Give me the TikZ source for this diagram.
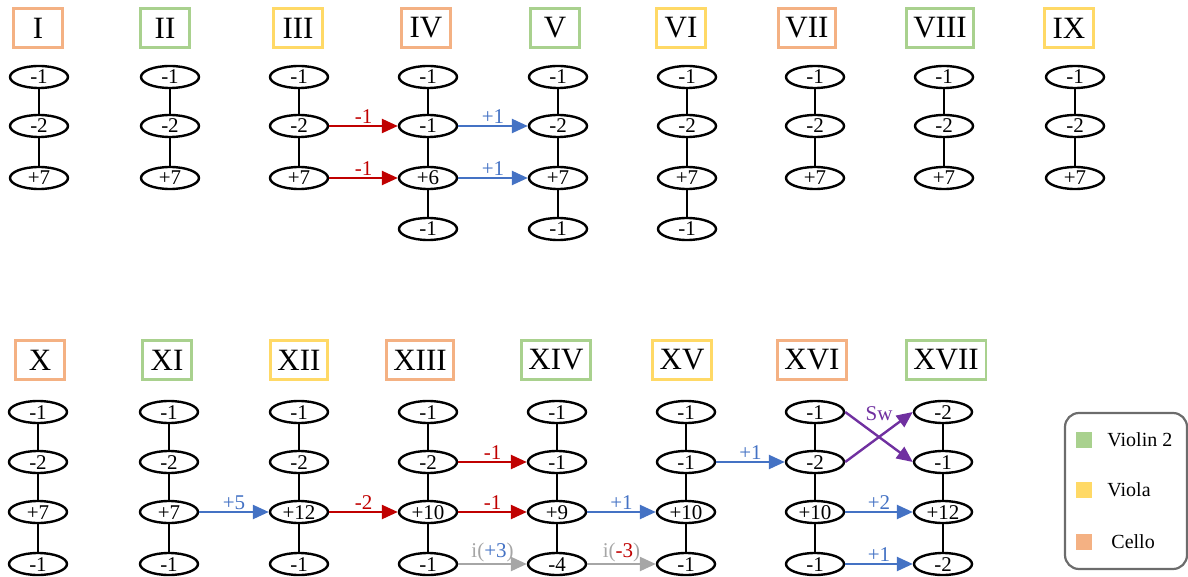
\documentclass[tikz,border=0pt]{standalone}
\usepackage{fontspec}
\setmainfont{Liberation Serif}
\usetikzlibrary{arrows.meta,shapes.geometric,positioning}
\definecolor{celloc}{HTML}{F4B183}
\definecolor{violac}{HTML}{FFD966}
\definecolor{violinc}{HTML}{A9D18E}
\definecolor{upc}{HTML}{4472C4}
\definecolor{downc}{HTML}{C00000}
\definecolor{invc}{HTML}{A6A6A6}
\definecolor{swc}{HTML}{7030A0}
\begin{document}
\begin{tikzpicture}[x=1pt,y=-1pt,
  title/.style={draw, line width=2.4pt, minimum width=49pt, minimum height=39pt, inner xsep=7pt, font=\fontsize{31}{32}\selectfont},
  val/.style={ellipse, draw, line width=2.4pt, minimum width=58pt, minimum height=22pt, inner sep=0pt, text height=14pt, text depth=0pt, font=\fontsize{21}{22}\selectfont},
  link/.style={line width=1.3pt},
  move/.style={-{Triangle[length=16pt,width=14pt]}, line width=2.4pt},
  lbl/.style={above, inner sep=1pt, font=\fontsize{21}{22}\selectfont},
  key/.style={minimum size=16pt, inner sep=0pt},
  keytext/.style={inner sep=0pt, anchor=west, font=\fontsize{20}{22}\selectfont}]
\useasboundingbox (0,0) rectangle (1188,577);
% titles, top row
\node[title, draw=celloc] (t1) at (38,28) {I};
\node[title, draw=violinc] (t2) at (165,28) {II};
\node[title, draw=violac] (t3) at (298,28) {III};
\node[title, draw=celloc] (t4) at (426,28) {IV};
\node[title, draw=violinc] (t5) at (555,28) {V};
\node[title, draw=violac] (t6) at (681,28) {VI};
\node[title, draw=celloc] (t7) at (807,28) {VII};
\node[title, draw=violinc] (t8) at (940,28) {VIII};
\node[title, draw=violac] (t9) at (1069,28) {IX};
% titles, bottom row
\node[title, draw=celloc] (t10) at (40,360) {X};
\node[title, draw=violinc] (t11) at (167,360) {XI};
\node[title, draw=violac] (t12) at (299,360) {XII};
\node[title, draw=celloc] (t13) at (420,360) {XIII};
\node[title, draw=violinc] (t14) at (556,360) {XIV};
\node[title, draw=violac] (t15) at (682,360) {XV};
\node[title, draw=celloc] (t16) at (812,360) {XVI};
\node[title, draw=violinc] (t17) at (946,360) {XVII};
% columns, top row
\node[val] (n1a) at (39,77) {-1};
\node[val] (n1b) at (39,126) {-2};
\node[val] (n1c) at (39,178) {+7};
\node[val] (n2a) at (170,77) {-1};
\node[val] (n2b) at (170,126) {-2};
\node[val] (n2c) at (170,178) {+7};
\node[val] (n3a) at (299,77) {-1};
\node[val] (n3b) at (299,126) {-2};
\node[val] (n3c) at (299,178) {+7};
\node[val] (n4a) at (428,77) {-1};
\node[val] (n4b) at (428,126) {-1};
\node[val] (n4c) at (428,178) {+6};
\node[val] (n4d) at (428,229) {-1};
\node[val] (n5a) at (558,77) {-1};
\node[val] (n5b) at (558,126) {-2};
\node[val] (n5c) at (558,178) {+7};
\node[val] (n5d) at (558,229) {-1};
\node[val] (n6a) at (687,77) {-1};
\node[val] (n6b) at (687,126) {-2};
\node[val] (n6c) at (687,178) {+7};
\node[val] (n6d) at (687,229) {-1};
\node[val] (n7a) at (815,77) {-1};
\node[val] (n7b) at (815,126) {-2};
\node[val] (n7c) at (815,178) {+7};
\node[val] (n8a) at (944,77) {-1};
\node[val] (n8b) at (944,126) {-2};
\node[val] (n8c) at (944,178) {+7};
\node[val] (n9a) at (1075,77) {-1};
\node[val] (n9b) at (1075,126) {-2};
\node[val] (n9c) at (1075,178) {+7};
% columns, bottom row
\node[val] (n10a) at (38,412) {-1};
\node[val] (n10b) at (38,462) {-2};
\node[val] (n10c) at (38,512) {+7};
\node[val] (n10d) at (38,564) {-1};
\node[val] (n11a) at (169,412) {-1};
\node[val] (n11b) at (169,462) {-2};
\node[val] (n11c) at (169,512) {+7};
\node[val] (n11d) at (169,564) {-1};
\node[val] (n12a) at (299,412) {-1};
\node[val] (n12b) at (299,462) {-2};
\node[val] (n12c) at (299,512) {+12};
\node[val] (n12d) at (299,564) {-1};
\node[val] (n13a) at (428,412) {-1};
\node[val] (n13b) at (428,462) {-2};
\node[val] (n13c) at (428,512) {+10};
\node[val] (n13d) at (428,564) {-1};
\node[val] (n14a) at (557,412) {-1};
\node[val] (n14b) at (557,462) {-1};
\node[val] (n14c) at (557,512) {+9};
\node[val] (n14d) at (557,564) {-4};
\node[val] (n15a) at (686,412) {-1};
\node[val] (n15b) at (686,462) {-1};
\node[val] (n15c) at (686,512) {+10};
\node[val] (n15d) at (686,564) {-1};
\node[val] (n16a) at (815,412) {-1};
\node[val] (n16b) at (815,462) {-2};
\node[val] (n16c) at (815,512) {+10};
\node[val] (n16d) at (815,564) {-1};
\node[val] (n17a) at (943,412) {-2};
\node[val] (n17b) at (943,462) {-1};
\node[val] (n17c) at (943,512) {+12};
\node[val] (n17d) at (943,564) {-2};
% vertical links
\draw[link] (n1a) -- (n1b) -- (n1c);
\draw[link] (n2a) -- (n2b) -- (n2c);
\draw[link] (n3a) -- (n3b) -- (n3c);
\draw[link] (n4a) -- (n4b) -- (n4c) -- (n4d);
\draw[link] (n5a) -- (n5b) -- (n5c) -- (n5d);
\draw[link] (n6a) -- (n6b) -- (n6c) -- (n6d);
\draw[link] (n7a) -- (n7b) -- (n7c);
\draw[link] (n8a) -- (n8b) -- (n8c);
\draw[link] (n9a) -- (n9b) -- (n9c);
\draw[link] (n10a) -- (n10b) -- (n10c) -- (n10d);
\draw[link] (n11a) -- (n11b) -- (n11c) -- (n11d);
\draw[link] (n12a) -- (n12b) -- (n12c) -- (n12d);
\draw[link] (n13a) -- (n13b) -- (n13c) -- (n13d);
\draw[link] (n14a) -- (n14b) -- (n14c) -- (n14d);
\draw[link] (n15a) -- (n15b) -- (n15c) -- (n15d);
\draw[link] (n16a) -- (n16b) -- (n16c) -- (n16d);
\draw[link] (n17a) -- (n17b) -- (n17c) -- (n17d);
% moves, top row
\draw[move, downc] (n3b) -- (n4b) node[lbl, midway] {-1};
\draw[move, downc] (n3c) -- (n4c) node[lbl, midway] {-1};
\draw[move, upc] (n4b) -- (n5b) node[lbl, midway] {+1};
\draw[move, upc] (n4c) -- (n5c) node[lbl, midway] {+1};
% moves, bottom row
\draw[move, upc] (n11c) -- (n12c) node[lbl, midway] {+5};
\draw[move, downc] (n12c) -- (n13c) node[lbl, midway] {-2};
\draw[move, downc] (n13b) -- (n14b) node[lbl, midway] {-1};
\draw[move, downc] (n13c) -- (n14c) node[lbl, midway] {-1};
\draw[move, invc] (n13d) -- (n14d) node[lbl, midway] {i(\textcolor{upc}{+3})};
\draw[move, upc] (n14c) -- (n15c) node[lbl, midway] {+1};
\draw[move, invc] (n14d) -- (n15d) node[lbl, midway] {i(\textcolor{downc}{-3})};
\draw[move, upc] (n15b) -- (n16b) node[lbl, midway] {+1};
\draw[move, swc] (n16a.east) -- (n17b.west);
\draw[move, swc] (n16b.east) -- (n17a.west);
\path (n16a.east) -- (n17a.west) node[lbl, midway, swc, yshift=-10pt] {Sw};
\draw[move, upc] (n16c) -- (n17c) node[lbl, midway] {+2};
\draw[move, upc] (n16d) -- (n17d) node[lbl, midway] {+1};
% legend
\draw[gray!85!black, line width=2.2pt, rounded corners=14pt] (1065,413) rectangle (1187,569);
\node[key, fill=violinc] (kvln) at (1084,440) {};
\node[key, fill=violac] (kvla) at (1084,490) {};
\node[key, fill=celloc] (kvc) at (1084,542) {};
\node[keytext, right=15pt of kvln] {Violin 2};
\node[keytext, right=15pt of kvla] {Viola};
\node[keytext, right=19pt of kvc] {Cello};
\end{tikzpicture}
\end{document}
